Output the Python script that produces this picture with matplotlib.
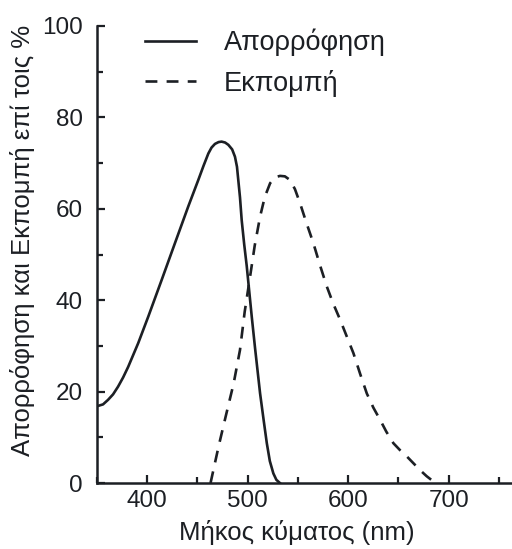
import numpy as np
import matplotlib
matplotlib.use('Agg')
import matplotlib.pyplot as plt
from matplotlib.ticker import MultipleLocator

plt.rcParams['font.family'] = ['Liberation Sans', 'DejaVu Sans']

# absorption curve (solid)
abs_x = [350, 356, 361, 366, 371, 376, 381, 391, 401, 414.3, 427.6, 440.8, 450.8, 456,
         460.8, 464, 467.4, 471, 474, 477.5, 480.7, 484.5, 487.3, 489.3, 490.6, 492.3,
         494, 496.5, 499, 504, 507.3, 512.3, 516, 519, 522, 525.5, 528.5, 532]
abs_y = [16.8, 17.2, 18.2, 19.4, 21.1, 23.1, 25.4, 30.6, 36.4, 44.4, 52.5, 60.5, 66.3, 69.4,
         72.1, 73.4, 74.2, 74.6, 74.7, 74.5, 74, 73, 71.4, 69.2, 66.3, 62.5,
         57.5, 52.2, 47.5, 36.4, 29.5, 19.6, 13.5, 8.7, 4.8, 2.1, 0.7, 0]

# emission curve (dashed)
em_x = [463, 467, 471, 478, 486, 492.3, 497, 502.3, 507, 512.3, 517, 522.3, 527, 532.2, 537,
        542.1, 547, 552.1, 558, 565.3, 572, 578.7, 585, 592, 598.5, 605.2, 612, 618.5,
        625, 631.8, 638, 645, 651.5, 658.4, 665, 671.6, 678, 685, 690]
em_y = [0, 4, 8, 14.5, 21.8, 29.1, 37.5, 45.1, 52, 58.3, 62.6, 65.6, 66.9, 67.2, 67.1,
        66.3, 64.3, 61.2, 57.2, 52.5, 47.6, 43, 39.3, 35.7, 32.1, 28.4, 23.8, 19.6,
        16.5, 13.8, 11.2, 8.7, 7.2, 5.8, 4.3, 2.8, 1.5, 0.3, 0]

labels = ['Απορρόφηση', 'Εκπομπή']
x_ticks = [400, 500, 600, 700]
y_ticks = [0, 20, 40, 60, 80, 100]

ink = '#1c1f24'
fs = 17.5

fig = plt.figure(figsize=(5.12, 5.49), dpi=100)
ax = fig.add_axes([97 / 512, 66 / 549, 1 - 97 / 512, 457 / 549])

ax.plot(abs_x, abs_y, color=ink, lw=1.9, label=labels[0])
ax.plot(em_x, em_y, color=ink, lw=1.9, linestyle=(0, (4.5, 3.5)), label=labels[1])

ax.set_xlim(350, 763)
ax.set_ylim(0, 100)
ax.set_xticks(x_ticks)
ax.set_yticks(y_ticks)
ax.xaxis.set_minor_locator(MultipleLocator(50))
ax.yaxis.set_minor_locator(MultipleLocator(10))

for s in ['top', 'right']:
    ax.spines[s].set_visible(False)
for s in ['left', 'bottom']:
    ax.spines[s].set_linewidth(1.8)
    ax.spines[s].set_color(ink)

ax.tick_params(which='major', direction='in', length=6, width=1.6, color=ink,
               labelsize=fs, labelcolor=ink)
ax.tick_params(which='minor', direction='in', length=4.5, width=1.6, color=ink)
ax.tick_params(axis='y', which='major', pad=10)
ax.tick_params(axis='x', which='major', pad=5)

ax.set_xlabel('Μήκος κύματος (nm)', fontsize=18.5, color=ink, labelpad=6, x=0.482)
ax.set_ylabel('Απορρόφηση και Εκπομπή επί τοις %', fontsize=18.5, color=ink,
              labelpad=5, y=0.53)

leg = ax.legend(loc='upper left', bbox_to_anchor=(0.058, 1.047), frameon=False,
                fontsize=19.5, handlelength=1.85, handletextpad=1.05, labelspacing=0.49)
for t in leg.get_texts():
    t.set_color(ink)

fig.savefig('out.png', dpi=100)
